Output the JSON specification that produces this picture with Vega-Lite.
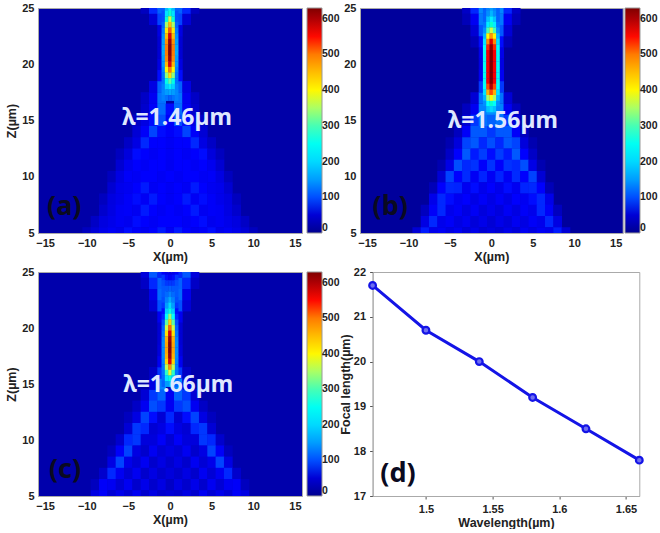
{"$schema":"https://vega.github.io/schema/vega-lite/v6.json","background":"white","padding":{"left":5,"top":1,"right":0,"bottom":0},"spacing":2,"resolve":{"scale":{"color":"independent"},"legend":{"color":"independent"}},
"config":{"view":{"stroke":"#aaaaaa"},"font":"Liberation Sans","axis":{"labelFont":"Liberation Sans","labelFontWeight":"bold","labelFontSize":11,"labelColor":"#222222","titleFont":"Liberation Sans","titleFontWeight":"bold","titleFontSize":12.5,"titleColor":"#222222","grid":false,"domainColor":"#aaaaaa","tickColor":"#555555","tickSize":0,"labelPadding":4},"legend":{"labelFont":"Liberation Sans","labelFontWeight":"bold","labelFontSize":10.5,"labelColor":"#222222"}},
"datasets":{
"ac":[{"x":-3,"z":16,"v":45},{"x":-2,"z":16,"v":75},{"x":-1,"z":16,"v":115},{"x":0,"z":16,"v":80},{"x":1,"z":16,"v":115},{"x":2,"z":16,"v":75},{"x":3,"z":16,"v":45},
{"x":-4,"z":15,"v":40},{"x":-3,"z":15,"v":60},{"x":-2,"z":15,"v":80},{"x":-1,"z":15,"v":100},{"x":0,"z":15,"v":75},{"x":1,"z":15,"v":100},{"x":2,"z":15,"v":80},{"x":3,"z":15,"v":60},{"x":4,"z":15,"v":40},
{"x":-4,"z":14,"v":50},{"x":-3,"z":14,"v":75},{"x":-2,"z":14,"v":95},{"x":-1,"z":14,"v":80},{"x":0,"z":14,"v":75},{"x":1,"z":14,"v":80},{"x":2,"z":14,"v":95},{"x":3,"z":14,"v":75},{"x":4,"z":14,"v":50},
{"x":-5,"z":13,"v":40},{"x":-4,"z":13,"v":60},{"x":-3,"z":13,"v":85},{"x":-2,"z":13,"v":78},{"x":-1,"z":13,"v":78},{"x":0,"z":13,"v":72},{"x":1,"z":13,"v":78},{"x":2,"z":13,"v":78},{"x":3,"z":13,"v":85},{"x":4,"z":13,"v":60},{"x":5,"z":13,"v":40},
{"x":-6,"z":12,"v":35},{"x":-5,"z":12,"v":55},{"x":-4,"z":12,"v":80},{"x":-3,"z":12,"v":78},{"x":-2,"z":12,"v":72},{"x":-1,"z":12,"v":78},{"x":0,"z":12,"v":72},{"x":1,"z":12,"v":78},{"x":2,"z":12,"v":72},{"x":3,"z":12,"v":78},{"x":4,"z":12,"v":80},{"x":5,"z":12,"v":55},{"x":6,"z":12,"v":35},
{"x":-6,"z":11,"v":48},{"x":-5,"z":11,"v":68},{"x":-4,"z":11,"v":78},{"x":-3,"z":11,"v":72},{"x":-2,"z":11,"v":78},{"x":-1,"z":11,"v":78},{"x":0,"z":11,"v":70},{"x":1,"z":11,"v":78},{"x":2,"z":11,"v":78},{"x":3,"z":11,"v":72},{"x":4,"z":11,"v":78},{"x":5,"z":11,"v":68},{"x":6,"z":11,"v":48},
{"x":-7,"z":10,"v":35},{"x":-6,"z":10,"v":60},{"x":-5,"z":10,"v":75},{"x":-4,"z":10,"v":72},{"x":-3,"z":10,"v":78},{"x":-2,"z":10,"v":78},{"x":-1,"z":10,"v":72},{"x":0,"z":10,"v":78},{"x":1,"z":10,"v":72},{"x":2,"z":10,"v":78},{"x":3,"z":10,"v":78},{"x":4,"z":10,"v":72},{"x":5,"z":10,"v":75},{"x":6,"z":10,"v":60},{"x":7,"z":10,"v":35},
{"x":-7,"z":9,"v":48},{"x":-6,"z":9,"v":66},{"x":-5,"z":9,"v":70},{"x":-4,"z":9,"v":78},{"x":-3,"z":9,"v":82},{"x":-2,"z":9,"v":72},{"x":-1,"z":9,"v":78},{"x":0,"z":9,"v":72},{"x":1,"z":9,"v":78},{"x":2,"z":9,"v":72},{"x":3,"z":9,"v":82},{"x":4,"z":9,"v":78},{"x":5,"z":9,"v":70},{"x":6,"z":9,"v":66},{"x":7,"z":9,"v":48},
{"x":-8,"z":8,"v":35},{"x":-7,"z":8,"v":58},{"x":-6,"z":8,"v":66},{"x":-5,"z":8,"v":75},{"x":-4,"z":8,"v":80},{"x":-3,"z":8,"v":72},{"x":-2,"z":8,"v":82},{"x":-1,"z":8,"v":78},{"x":0,"z":8,"v":72},{"x":1,"z":8,"v":78},{"x":2,"z":8,"v":82},{"x":3,"z":8,"v":72},{"x":4,"z":8,"v":80},{"x":5,"z":8,"v":75},{"x":6,"z":8,"v":66},{"x":7,"z":8,"v":58},{"x":8,"z":8,"v":35},
{"x":-8,"z":7,"v":45},{"x":-7,"z":7,"v":60},{"x":-6,"z":7,"v":72},{"x":-5,"z":7,"v":75},{"x":-4,"z":7,"v":70},{"x":-3,"z":7,"v":82},{"x":-2,"z":7,"v":78},{"x":-1,"z":7,"v":72},{"x":0,"z":7,"v":78},{"x":1,"z":7,"v":72},{"x":2,"z":7,"v":78},{"x":3,"z":7,"v":82},{"x":4,"z":7,"v":70},{"x":5,"z":7,"v":75},{"x":6,"z":7,"v":72},{"x":7,"z":7,"v":60},{"x":8,"z":7,"v":45},
{"x":-9,"z":6,"v":40},{"x":-8,"z":6,"v":58},{"x":-7,"z":6,"v":65},{"x":-6,"z":6,"v":72},{"x":-5,"z":6,"v":68},{"x":-4,"z":6,"v":80},{"x":-3,"z":6,"v":78},{"x":-2,"z":6,"v":72},{"x":-1,"z":6,"v":78},{"x":0,"z":6,"v":78},{"x":1,"z":6,"v":78},{"x":2,"z":6,"v":72},{"x":3,"z":6,"v":78},{"x":4,"z":6,"v":80},{"x":5,"z":6,"v":68},{"x":6,"z":6,"v":72},{"x":7,"z":6,"v":65},{"x":8,"z":6,"v":58},{"x":9,"z":6,"v":40},
{"x":-10,"z":5,"v":35},{"x":-9,"z":5,"v":52},{"x":-8,"z":5,"v":65},{"x":-7,"z":5,"v":72},{"x":-6,"z":5,"v":66},{"x":-5,"z":5,"v":80},{"x":-4,"z":5,"v":75},{"x":-3,"z":5,"v":70},{"x":-2,"z":5,"v":78},{"x":-1,"z":5,"v":82},{"x":0,"z":5,"v":72},{"x":1,"z":5,"v":82},{"x":2,"z":5,"v":78},{"x":3,"z":5,"v":70},{"x":4,"z":5,"v":75},{"x":5,"z":5,"v":80},{"x":6,"z":5,"v":66},{"x":7,"z":5,"v":72},{"x":8,"z":5,"v":65},{"x":9,"z":5,"v":52},{"x":10,"z":5,"v":35},
{"x":-3,"z":17,"v":40},{"x":-2,"z":17,"v":70},{"x":-1,"z":17,"v":120},{"x":1,"z":17,"v":120},{"x":2,"z":17,"v":70},{"x":3,"z":17,"v":40},
{"x":-2,"z":18,"v":60},{"x":-1,"z":18,"v":110},{"x":1,"z":18,"v":110},{"x":2,"z":18,"v":60},
{"x":-1,"z":19,"v":80},{"x":1,"z":19,"v":80},{"x":-1,"z":20,"v":60},{"x":1,"z":20,"v":60},{"x":-1,"z":21,"v":50},{"x":1,"z":21,"v":50},{"x":-1,"z":22,"v":50},{"x":1,"z":22,"v":50},{"x":-1,"z":23,"v":60},{"x":1,"z":23,"v":60},
{"x":-2,"z":24,"v":50},{"x":-1,"z":24,"v":95},{"x":1,"z":24,"v":95},{"x":2,"z":24,"v":50},{"x":-3,"z":25,"v":35},{"x":-2,"z":25,"v":85},{"x":-1,"z":25,"v":110},{"x":1,"z":25,"v":110},{"x":2,"z":25,"v":85},{"x":3,"z":25,"v":35}],
"af":[{"x":-0.8,"z":25,"v":110},{"x":-0.4,"z":25,"v":175},{"x":0,"z":25,"v":230},{"x":0.4,"z":25,"v":175},{"x":0.8,"z":25,"v":110},
{"x":-0.8,"z":24.5,"v":100},{"x":-0.4,"z":24.5,"v":210},{"x":0,"z":24.5,"v":280},{"x":0.4,"z":24.5,"v":210},{"x":0.8,"z":24.5,"v":100},
{"x":-0.8,"z":24,"v":100},{"x":-0.4,"z":24,"v":280},{"x":0,"z":24,"v":370},{"x":0.4,"z":24,"v":280},{"x":0.8,"z":24,"v":100},
{"x":-0.8,"z":23.5,"v":110},{"x":-0.4,"z":23.5,"v":350},{"x":0,"z":23.5,"v":450},{"x":0.4,"z":23.5,"v":350},{"x":0.8,"z":23.5,"v":110},
{"x":-0.8,"z":23,"v":125},{"x":-0.4,"z":23,"v":410},{"x":0,"z":23,"v":520},{"x":0.4,"z":23,"v":410},{"x":0.8,"z":23,"v":125},
{"x":-0.8,"z":22.5,"v":140},{"x":-0.4,"z":22.5,"v":450},{"x":0,"z":22.5,"v":570},{"x":0.4,"z":22.5,"v":450},{"x":0.8,"z":22.5,"v":140},
{"x":-0.8,"z":22,"v":150},{"x":-0.4,"z":22,"v":485},{"x":0,"z":22,"v":610},{"x":0.4,"z":22,"v":485},{"x":0.8,"z":22,"v":150},
{"x":-0.8,"z":21.5,"v":160},{"x":-0.4,"z":21.5,"v":500},{"x":0,"z":21.5,"v":625},{"x":0.4,"z":21.5,"v":500},{"x":0.8,"z":21.5,"v":160},
{"x":-0.8,"z":21,"v":160},{"x":-0.4,"z":21,"v":500},{"x":0,"z":21,"v":625},{"x":0.4,"z":21,"v":500},{"x":0.8,"z":21,"v":160},
{"x":-0.8,"z":20.5,"v":150},{"x":-0.4,"z":20.5,"v":490},{"x":0,"z":20.5,"v":610},{"x":0.4,"z":20.5,"v":490},{"x":0.8,"z":20.5,"v":150},
{"x":-0.8,"z":20,"v":145},{"x":-0.4,"z":20,"v":455},{"x":0,"z":20,"v":570},{"x":0.4,"z":20,"v":455},{"x":0.8,"z":20,"v":145},
{"x":-0.8,"z":19.5,"v":130},{"x":-0.4,"z":19.5,"v":400},{"x":0,"z":19.5,"v":500},{"x":0.4,"z":19.5,"v":400},{"x":0.8,"z":19.5,"v":130},
{"x":-0.8,"z":19,"v":120},{"x":-0.4,"z":19,"v":335},{"x":0,"z":19,"v":420},{"x":0.4,"z":19,"v":335},{"x":0.8,"z":19,"v":120},
{"x":-0.8,"z":18.5,"v":120},{"x":-0.4,"z":18.5,"v":260},{"x":0,"z":18.5,"v":310},{"x":0.4,"z":18.5,"v":260},{"x":0.8,"z":18.5,"v":120},
{"x":-0.8,"z":18,"v":130},{"x":-0.4,"z":18,"v":195},{"x":0,"z":18,"v":220},{"x":0.4,"z":18,"v":195},{"x":0.8,"z":18,"v":130},
{"x":-0.8,"z":17.5,"v":135},{"x":-0.4,"z":17.5,"v":150},{"x":0,"z":17.5,"v":160},{"x":0.4,"z":17.5,"v":150},{"x":0.8,"z":17.5,"v":135},
{"x":-0.8,"z":17,"v":130},{"x":-0.4,"z":17,"v":120},{"x":0,"z":17,"v":110},{"x":0.4,"z":17,"v":120},{"x":0.8,"z":17,"v":130}],
"bc":[{"x":-3,"z":16,"v":35},{"x":-2,"z":16,"v":70},{"x":-1,"z":16,"v":130},{"x":0,"z":16,"v":140},{"x":1,"z":16,"v":130},{"x":2,"z":16,"v":70},{"x":3,"z":16,"v":35},
{"x":-3,"z":15,"v":50},{"x":-2,"z":15,"v":90},{"x":-1,"z":15,"v":120},{"x":0,"z":15,"v":110},{"x":1,"z":15,"v":120},{"x":2,"z":15,"v":90},{"x":3,"z":15,"v":50},
{"x":-4,"z":14,"v":35},{"x":-3,"z":14,"v":75},{"x":-2,"z":14,"v":105},{"x":-1,"z":14,"v":105},{"x":0,"z":14,"v":90},{"x":1,"z":14,"v":105},{"x":2,"z":14,"v":105},{"x":3,"z":14,"v":75},{"x":4,"z":14,"v":35},
{"x":-5,"z":13,"v":25},{"x":-4,"z":13,"v":55},{"x":-3,"z":13,"v":95},{"x":-2,"z":13,"v":105},{"x":-1,"z":13,"v":85},{"x":0,"z":13,"v":100},{"x":1,"z":13,"v":85},{"x":2,"z":13,"v":105},{"x":3,"z":13,"v":95},{"x":4,"z":13,"v":55},{"x":5,"z":13,"v":25},
{"x":-5,"z":12,"v":40},{"x":-4,"z":12,"v":78},{"x":-3,"z":12,"v":105},{"x":-2,"z":12,"v":82},{"x":-1,"z":12,"v":92},{"x":0,"z":12,"v":80},{"x":1,"z":12,"v":92},{"x":2,"z":12,"v":82},{"x":3,"z":12,"v":105},{"x":4,"z":12,"v":78},{"x":5,"z":12,"v":40},
{"x":-6,"z":11,"v":25},{"x":-5,"z":11,"v":62},{"x":-4,"z":11,"v":100},{"x":-3,"z":11,"v":85},{"x":-2,"z":11,"v":88},{"x":-1,"z":11,"v":76},{"x":0,"z":11,"v":88},{"x":1,"z":11,"v":76},{"x":2,"z":11,"v":88},{"x":3,"z":11,"v":85},{"x":4,"z":11,"v":100},{"x":5,"z":11,"v":62},{"x":6,"z":11,"v":25},
{"x":-6,"z":10,"v":50},{"x":-5,"z":10,"v":95},{"x":-4,"z":10,"v":78},{"x":-3,"z":10,"v":86},{"x":-2,"z":10,"v":72},{"x":-1,"z":10,"v":84},{"x":0,"z":10,"v":72},{"x":1,"z":10,"v":84},{"x":2,"z":10,"v":72},{"x":3,"z":10,"v":86},{"x":4,"z":10,"v":78},{"x":5,"z":10,"v":95},{"x":6,"z":10,"v":50},
{"x":-7,"z":9,"v":30},{"x":-6,"z":9,"v":78},{"x":-5,"z":9,"v":85},{"x":-4,"z":9,"v":84},{"x":-3,"z":9,"v":70},{"x":-2,"z":9,"v":80},{"x":-1,"z":9,"v":66},{"x":0,"z":9,"v":78},{"x":1,"z":9,"v":66},{"x":2,"z":9,"v":80},{"x":3,"z":9,"v":70},{"x":4,"z":9,"v":84},{"x":5,"z":9,"v":85},{"x":6,"z":9,"v":78},{"x":7,"z":9,"v":30},
{"x":-7,"z":8,"v":65},{"x":-6,"z":8,"v":85},{"x":-5,"z":8,"v":80},{"x":-4,"z":8,"v":70},{"x":-3,"z":8,"v":78},{"x":-2,"z":8,"v":62},{"x":-1,"z":8,"v":74},{"x":0,"z":8,"v":62},{"x":1,"z":8,"v":74},{"x":2,"z":8,"v":62},{"x":3,"z":8,"v":78},{"x":4,"z":8,"v":70},{"x":5,"z":8,"v":80},{"x":6,"z":8,"v":85},{"x":7,"z":8,"v":65},
{"x":-8,"z":7,"v":35},{"x":-7,"z":7,"v":75},{"x":-6,"z":7,"v":85},{"x":-5,"z":7,"v":66},{"x":-4,"z":7,"v":74},{"x":-3,"z":7,"v":60},{"x":-2,"z":7,"v":72},{"x":-1,"z":7,"v":56},{"x":0,"z":7,"v":66},{"x":1,"z":7,"v":56},{"x":2,"z":7,"v":72},{"x":3,"z":7,"v":60},{"x":4,"z":7,"v":74},{"x":5,"z":7,"v":66},{"x":6,"z":7,"v":85},{"x":7,"z":7,"v":75},{"x":8,"z":7,"v":35},
{"x":-8,"z":6,"v":60},{"x":-7,"z":6,"v":85},{"x":-6,"z":6,"v":66},{"x":-5,"z":6,"v":74},{"x":-4,"z":6,"v":60},{"x":-3,"z":6,"v":70},{"x":-2,"z":6,"v":54},{"x":-1,"z":6,"v":64},{"x":0,"z":6,"v":50},{"x":1,"z":6,"v":64},{"x":2,"z":6,"v":54},{"x":3,"z":6,"v":70},{"x":4,"z":6,"v":60},{"x":5,"z":6,"v":74},{"x":6,"z":6,"v":66},{"x":7,"z":6,"v":85},{"x":8,"z":6,"v":60},
{"x":-9,"z":5,"v":50},{"x":-8,"z":5,"v":82},{"x":-7,"z":5,"v":66},{"x":-6,"z":5,"v":72},{"x":-5,"z":5,"v":60},{"x":-4,"z":5,"v":70},{"x":-3,"z":5,"v":54},{"x":-2,"z":5,"v":64},{"x":-1,"z":5,"v":50},{"x":0,"z":5,"v":58},{"x":1,"z":5,"v":50},{"x":2,"z":5,"v":64},{"x":3,"z":5,"v":54},{"x":4,"z":5,"v":70},{"x":5,"z":5,"v":60},{"x":6,"z":5,"v":72},{"x":7,"z":5,"v":66},{"x":8,"z":5,"v":82},{"x":9,"z":5,"v":50},
{"x":-2,"z":17,"v":50},{"x":-1,"z":17,"v":120},{"x":1,"z":17,"v":120},{"x":2,"z":17,"v":50},{"x":-1,"z":18,"v":90},{"x":1,"z":18,"v":90},{"x":-1,"z":19,"v":70},{"x":1,"z":19,"v":70},{"x":-1,"z":20,"v":60},{"x":1,"z":20,"v":60},{"x":-1,"z":21,"v":65},{"x":1,"z":21,"v":65},
{"x":-2,"z":22,"v":30},{"x":-1,"z":22,"v":80},{"x":1,"z":22,"v":80},{"x":2,"z":22,"v":30},{"x":-2,"z":23,"v":50},{"x":-1,"z":23,"v":105},{"x":1,"z":23,"v":105},{"x":2,"z":23,"v":50},
{"x":-3,"z":24,"v":30},{"x":-2,"z":24,"v":70},{"x":-1,"z":24,"v":125},{"x":1,"z":24,"v":125},{"x":2,"z":24,"v":70},{"x":3,"z":24,"v":30},{"x":-3,"z":25,"v":40},{"x":-2,"z":25,"v":85},{"x":-1,"z":25,"v":135},{"x":1,"z":25,"v":135},{"x":2,"z":25,"v":85},{"x":3,"z":25,"v":40}],
"bf":[{"x":-0.8,"z":25,"v":110},{"x":-0.4,"z":25,"v":130},{"x":0,"z":25,"v":150},{"x":0.4,"z":25,"v":130},{"x":0.8,"z":25,"v":110},
{"x":-0.8,"z":24.5,"v":110},{"x":-0.4,"z":24.5,"v":140},{"x":0,"z":24.5,"v":170},{"x":0.4,"z":24.5,"v":140},{"x":0.8,"z":24.5,"v":110},
{"x":-0.8,"z":24,"v":110},{"x":-0.4,"z":24,"v":180},{"x":0,"z":24,"v":220},{"x":0.4,"z":24,"v":180},{"x":0.8,"z":24,"v":110},
{"x":-0.8,"z":23.5,"v":120},{"x":-0.4,"z":23.5,"v":220},{"x":0,"z":23.5,"v":280},{"x":0.4,"z":23.5,"v":220},{"x":0.8,"z":23.5,"v":120},
{"x":-0.8,"z":23,"v":140},{"x":-0.4,"z":23,"v":300},{"x":0,"z":23,"v":370},{"x":0.4,"z":23,"v":300},{"x":0.8,"z":23,"v":140},
{"x":-0.8,"z":22.5,"v":170},{"x":-0.4,"z":22.5,"v":400},{"x":0,"z":22.5,"v":480},{"x":0.4,"z":22.5,"v":400},{"x":0.8,"z":22.5,"v":170},
{"x":-0.8,"z":22,"v":210},{"x":-0.4,"z":22,"v":490},{"x":0,"z":22,"v":570},{"x":0.4,"z":22,"v":490},{"x":0.8,"z":22,"v":210},
{"x":-0.8,"z":21.5,"v":240},{"x":-0.4,"z":21.5,"v":545},{"x":0,"z":21.5,"v":620},{"x":0.4,"z":21.5,"v":545},{"x":0.8,"z":21.5,"v":240},
{"x":-0.8,"z":21,"v":250},{"x":-0.4,"z":21,"v":555},{"x":0,"z":21,"v":630},{"x":0.4,"z":21,"v":555},{"x":0.8,"z":21,"v":250},
{"x":-0.8,"z":20.5,"v":250},{"x":-0.4,"z":20.5,"v":555},{"x":0,"z":20.5,"v":630},{"x":0.4,"z":20.5,"v":555},{"x":0.8,"z":20.5,"v":250},
{"x":-0.8,"z":20,"v":250},{"x":-0.4,"z":20,"v":555},{"x":0,"z":20,"v":630},{"x":0.4,"z":20,"v":555},{"x":0.8,"z":20,"v":250},
{"x":-0.8,"z":19.5,"v":250},{"x":-0.4,"z":19.5,"v":555},{"x":0,"z":19.5,"v":630},{"x":0.4,"z":19.5,"v":555},{"x":0.8,"z":19.5,"v":250},
{"x":-0.8,"z":19,"v":250},{"x":-0.4,"z":19,"v":555},{"x":0,"z":19,"v":630},{"x":0.4,"z":19,"v":555},{"x":0.8,"z":19,"v":250},
{"x":-0.8,"z":18.5,"v":250},{"x":-0.4,"z":18.5,"v":555},{"x":0,"z":18.5,"v":630},{"x":0.4,"z":18.5,"v":555},{"x":0.8,"z":18.5,"v":250},
{"x":-0.8,"z":18,"v":240},{"x":-0.4,"z":18,"v":530},{"x":0,"z":18,"v":600},{"x":0.4,"z":18,"v":530},{"x":0.8,"z":18,"v":240},
{"x":-0.8,"z":17.5,"v":210},{"x":-0.4,"z":17.5,"v":460},{"x":0,"z":17.5,"v":530},{"x":0.4,"z":17.5,"v":460},{"x":0.8,"z":17.5,"v":210},
{"x":-0.8,"z":17,"v":170},{"x":-0.4,"z":17,"v":350},{"x":0,"z":17,"v":400},{"x":0.4,"z":17,"v":350},{"x":0.8,"z":17,"v":170},
{"x":-0.8,"z":16.5,"v":140},{"x":-0.4,"z":16.5,"v":240},{"x":0,"z":16.5,"v":280},{"x":0.4,"z":16.5,"v":240},{"x":0.8,"z":16.5,"v":140},
{"x":-0.8,"z":16,"v":130},{"x":-0.4,"z":16,"v":180},{"x":0,"z":16,"v":200},{"x":0.4,"z":16,"v":180},{"x":0.8,"z":16,"v":130}],
"cc":[{"x":-3,"z":14,"v":50},{"x":-2,"z":14,"v":90},{"x":-1,"z":14,"v":110},{"x":0,"z":14,"v":70},{"x":1,"z":14,"v":110},{"x":2,"z":14,"v":90},{"x":3,"z":14,"v":50},
{"x":-4,"z":13,"v":40},{"x":-3,"z":13,"v":70},{"x":-2,"z":13,"v":100},{"x":-1,"z":13,"v":90},{"x":0,"z":13,"v":70},{"x":1,"z":13,"v":90},{"x":2,"z":13,"v":100},{"x":3,"z":13,"v":70},{"x":4,"z":13,"v":40},
{"x":-5,"z":12,"v":35},{"x":-4,"z":12,"v":60},{"x":-3,"z":12,"v":95},{"x":-2,"z":12,"v":80},{"x":-1,"z":12,"v":50},{"x":0,"z":12,"v":85},{"x":1,"z":12,"v":50},{"x":2,"z":12,"v":80},{"x":3,"z":12,"v":95},{"x":4,"z":12,"v":60},{"x":5,"z":12,"v":35},
{"x":-5,"z":11,"v":50},{"x":-4,"z":11,"v":90},{"x":-3,"z":11,"v":85},{"x":-2,"z":11,"v":50},{"x":-1,"z":11,"v":60},{"x":0,"z":11,"v":80},{"x":1,"z":11,"v":60},{"x":2,"z":11,"v":50},{"x":3,"z":11,"v":85},{"x":4,"z":11,"v":90},{"x":5,"z":11,"v":50},
{"x":-6,"z":10,"v":45},{"x":-5,"z":10,"v":85},{"x":-4,"z":10,"v":90},{"x":-3,"z":10,"v":55},{"x":-2,"z":10,"v":55},{"x":-1,"z":10,"v":75},{"x":0,"z":10,"v":50},{"x":1,"z":10,"v":75},{"x":2,"z":10,"v":55},{"x":3,"z":10,"v":55},{"x":4,"z":10,"v":90},{"x":5,"z":10,"v":85},{"x":6,"z":10,"v":45},
{"x":-7,"z":9,"v":35},{"x":-6,"z":9,"v":75},{"x":-5,"z":9,"v":95},{"x":-4,"z":9,"v":60},{"x":-3,"z":9,"v":45},{"x":-2,"z":9,"v":70},{"x":-1,"z":9,"v":50},{"x":0,"z":9,"v":60},{"x":1,"z":9,"v":50},{"x":2,"z":9,"v":70},{"x":3,"z":9,"v":45},{"x":4,"z":9,"v":60},{"x":5,"z":9,"v":95},{"x":6,"z":9,"v":75},{"x":7,"z":9,"v":35},
{"x":-7,"z":8,"v":60},{"x":-6,"z":8,"v":95},{"x":-5,"z":8,"v":65},{"x":-4,"z":8,"v":50},{"x":-3,"z":8,"v":70},{"x":-2,"z":8,"v":45},{"x":-1,"z":8,"v":60},{"x":0,"z":8,"v":45},{"x":1,"z":8,"v":60},{"x":2,"z":8,"v":45},{"x":3,"z":8,"v":70},{"x":4,"z":8,"v":50},{"x":5,"z":8,"v":65},{"x":6,"z":8,"v":95},{"x":7,"z":8,"v":60},
{"x":-8,"z":7,"v":45},{"x":-7,"z":7,"v":85},{"x":-6,"z":7,"v":70},{"x":-5,"z":7,"v":50},{"x":-4,"z":7,"v":70},{"x":-3,"z":7,"v":45},{"x":-2,"z":7,"v":60},{"x":-1,"z":7,"v":45},{"x":0,"z":7,"v":55},{"x":1,"z":7,"v":45},{"x":2,"z":7,"v":60},{"x":3,"z":7,"v":45},{"x":4,"z":7,"v":70},{"x":5,"z":7,"v":50},{"x":6,"z":7,"v":70},{"x":7,"z":7,"v":85},{"x":8,"z":7,"v":45},
{"x":-9,"z":6,"v":35},{"x":-8,"z":6,"v":75},{"x":-7,"z":6,"v":70},{"x":-6,"z":6,"v":50},{"x":-5,"z":6,"v":70},{"x":-4,"z":6,"v":45},{"x":-3,"z":6,"v":65},{"x":-2,"z":6,"v":45},{"x":-1,"z":6,"v":60},{"x":0,"z":6,"v":40},{"x":1,"z":6,"v":60},{"x":2,"z":6,"v":45},{"x":3,"z":6,"v":65},{"x":4,"z":6,"v":45},{"x":5,"z":6,"v":70},{"x":6,"z":6,"v":50},{"x":7,"z":6,"v":70},{"x":8,"z":6,"v":75},{"x":9,"z":6,"v":35},
{"x":-9,"z":5,"v":60},{"x":-8,"z":5,"v":75},{"x":-7,"z":5,"v":50},{"x":-6,"z":5,"v":65},{"x":-5,"z":5,"v":50},{"x":-4,"z":5,"v":70},{"x":-3,"z":5,"v":45},{"x":-2,"z":5,"v":60},{"x":-1,"z":5,"v":45},{"x":0,"z":5,"v":50},{"x":1,"z":5,"v":45},{"x":2,"z":5,"v":60},{"x":3,"z":5,"v":45},{"x":4,"z":5,"v":70},{"x":5,"z":5,"v":50},{"x":6,"z":5,"v":65},{"x":7,"z":5,"v":50},{"x":8,"z":5,"v":75},{"x":9,"z":5,"v":60},
{"x":-2,"z":15,"v":60},{"x":-1,"z":15,"v":130},{"x":1,"z":15,"v":130},{"x":2,"z":15,"v":60},{"x":-2,"z":16,"v":40},{"x":-1,"z":16,"v":90},{"x":1,"z":16,"v":90},{"x":2,"z":16,"v":40},{"x":-1,"z":17,"v":70},{"x":1,"z":17,"v":70},{"x":-1,"z":18,"v":55},{"x":1,"z":18,"v":55},{"x":-1,"z":19,"v":50},{"x":1,"z":19,"v":50},{"x":-1,"z":20,"v":50},{"x":1,"z":20,"v":50},{"x":-1,"z":21,"v":70},{"x":1,"z":21,"v":70},
{"x":-2,"z":22,"v":50},{"x":-1,"z":22,"v":100},{"x":1,"z":22,"v":100},{"x":2,"z":22,"v":50},{"x":-2,"z":23,"v":65},{"x":-1,"z":23,"v":115},{"x":1,"z":23,"v":115},{"x":2,"z":23,"v":65},
{"x":-3,"z":24,"v":40},{"x":-2,"z":24,"v":85},{"x":-1,"z":24,"v":110},{"x":1,"z":24,"v":110},{"x":2,"z":24,"v":85},{"x":3,"z":24,"v":40},{"x":-3,"z":25,"v":55},{"x":-2,"z":25,"v":105},{"x":-1,"z":25,"v":85},{"x":1,"z":25,"v":85},{"x":2,"z":25,"v":105},{"x":3,"z":25,"v":55}],
"cf":[{"x":-0.8,"z":25,"v":75},{"x":-0.4,"z":25,"v":65},{"x":0,"z":25,"v":60},{"x":0.4,"z":25,"v":65},{"x":0.8,"z":25,"v":75},
{"x":-0.8,"z":24.5,"v":90},{"x":-0.4,"z":24.5,"v":80},{"x":0,"z":24.5,"v":75},{"x":0.4,"z":24.5,"v":80},{"x":0.8,"z":24.5,"v":90},
{"x":-0.8,"z":24,"v":100},{"x":-0.4,"z":24,"v":90},{"x":0,"z":24,"v":90},{"x":0.4,"z":24,"v":90},{"x":0.8,"z":24,"v":100},
{"x":-0.8,"z":23.5,"v":105},{"x":-0.4,"z":23.5,"v":105},{"x":0,"z":23.5,"v":110},{"x":0.4,"z":23.5,"v":105},{"x":0.8,"z":23.5,"v":105},
{"x":-0.8,"z":23,"v":105},{"x":-0.4,"z":23,"v":115},{"x":0,"z":23,"v":130},{"x":0.4,"z":23,"v":115},{"x":0.8,"z":23,"v":105},
{"x":-0.8,"z":22.5,"v":100},{"x":-0.4,"z":22.5,"v":130},{"x":0,"z":22.5,"v":160},{"x":0.4,"z":22.5,"v":130},{"x":0.8,"z":22.5,"v":100},
{"x":-0.8,"z":22,"v":90},{"x":-0.4,"z":22,"v":150},{"x":0,"z":22,"v":200},{"x":0.4,"z":22,"v":150},{"x":0.8,"z":22,"v":90},
{"x":-0.8,"z":21.5,"v":80},{"x":-0.4,"z":21.5,"v":190},{"x":0,"z":21.5,"v":260},{"x":0.4,"z":21.5,"v":190},{"x":0.8,"z":21.5,"v":80},
{"x":-0.8,"z":21,"v":85},{"x":-0.4,"z":21,"v":240},{"x":0,"z":21,"v":340},{"x":0.4,"z":21,"v":240},{"x":0.8,"z":21,"v":85},
{"x":-0.8,"z":20.5,"v":100},{"x":-0.4,"z":20.5,"v":310},{"x":0,"z":20.5,"v":430},{"x":0.4,"z":20.5,"v":310},{"x":0.8,"z":20.5,"v":100},
{"x":-0.8,"z":20,"v":110},{"x":-0.4,"z":20,"v":370},{"x":0,"z":20,"v":510},{"x":0.4,"z":20,"v":370},{"x":0.8,"z":20,"v":110},
{"x":-0.8,"z":19.5,"v":120},{"x":-0.4,"z":19.5,"v":420},{"x":0,"z":19.5,"v":570},{"x":0.4,"z":19.5,"v":420},{"x":0.8,"z":19.5,"v":120},
{"x":-0.8,"z":19,"v":130},{"x":-0.4,"z":19,"v":460},{"x":0,"z":19,"v":610},{"x":0.4,"z":19,"v":460},{"x":0.8,"z":19,"v":130},
{"x":-0.8,"z":18.5,"v":135},{"x":-0.4,"z":18.5,"v":470},{"x":0,"z":18.5,"v":625},{"x":0.4,"z":18.5,"v":470},{"x":0.8,"z":18.5,"v":135},
{"x":-0.8,"z":18,"v":135},{"x":-0.4,"z":18,"v":470},{"x":0,"z":18,"v":625},{"x":0.4,"z":18,"v":470},{"x":0.8,"z":18,"v":135},
{"x":-0.8,"z":17.5,"v":135},{"x":-0.4,"z":17.5,"v":460},{"x":0,"z":17.5,"v":610},{"x":0.4,"z":17.5,"v":460},{"x":0.8,"z":17.5,"v":135},
{"x":-0.8,"z":17,"v":130},{"x":-0.4,"z":17,"v":430},{"x":0,"z":17,"v":570},{"x":0.4,"z":17,"v":430},{"x":0.8,"z":17,"v":130},
{"x":-0.8,"z":16.5,"v":125},{"x":-0.4,"z":16.5,"v":360},{"x":0,"z":16.5,"v":480},{"x":0.4,"z":16.5,"v":360},{"x":0.8,"z":16.5,"v":125},
{"x":-0.8,"z":16,"v":120},{"x":-0.4,"z":16,"v":290},{"x":0,"z":16,"v":380},{"x":0.4,"z":16,"v":290},{"x":0.8,"z":16,"v":120},
{"x":-0.8,"z":15.5,"v":115},{"x":-0.4,"z":15.5,"v":210},{"x":0,"z":15.5,"v":270},{"x":0.4,"z":15.5,"v":210},{"x":0.8,"z":15.5,"v":115},
{"x":-0.8,"z":15,"v":110},{"x":-0.4,"z":15,"v":150},{"x":0,"z":15,"v":170},{"x":0.4,"z":15,"v":150},{"x":0.8,"z":15,"v":110}]
},
"vconcat":[
{"hconcat":[
{"width":264,"height":225,"view":{"fill":"#0000a8"},"layer":[
{"data":{"name":"ac"},"mark":{"type":"rect","width":8.7,"height":11.6,"clip":true},"encoding":{"x":{"field":"x","type":"quantitative","scale":{"domain":[-15.85,15.85],"nice":false},"axis":{"values":[-15,-10,-5,0,5,10,15],"title":"X(µm)","titlePadding":2}},"y":{"field":"z","type":"quantitative","scale":{"domain":[5,25],"nice":false},"axis":{"values":[5,10,15,20,25],"title":"Z(µm)","titlePadding":3}},"color":{"field":"v","type":"quantitative","scale":{"domain":[0,79,236,394,551,630],"range":["#00008f","#0000ff","#00ffff","#ffff00","#ff0000","#800000"]},"legend":{"orient":"none","legendX":269,"legendY":0,"title":null,"gradientLength":225,"gradientThickness":15,"values":[0,100,200,300,400,500,600],"gradientStrokeColor":"#999999","gradientStrokeWidth":1,"labelOverlap":false,"labelOffset":0}}}},
{"data":{"name":"af"},"mark":{"type":"rect","width":3.6,"height":5.9,"clip":true},"encoding":{"x":{"field":"x","type":"quantitative"},"y":{"field":"z","type":"quantitative"},"color":{"field":"v","type":"quantitative","legend":null}}},
{"data":{"values":[{"x":0.85,"z":15.2,"t":"λ=1.46µm"}]},"mark":{"type":"text","font":"Noto Sans","fontWeight":"bold","fontSize":23,"color":"#dfe8ff"},"encoding":{"x":{"field":"x","type":"quantitative"},"y":{"field":"z","type":"quantitative"},"text":{"field":"t"}}},
{"data":{"values":[{"x":-12.7,"z":7.3,"t":"(a)"}]},"mark":{"type":"text","font":"Noto Sans","fontWeight":"bold","fontSize":27,"color":"#0a0a20"},"encoding":{"x":{"field":"x","type":"quantitative"},"y":{"field":"z","type":"quantitative"},"text":{"field":"t"}}}
]},
{"width":262.7,"height":225,"view":{"fill":"#00009c"},"layer":[
{"data":{"name":"bc"},"mark":{"type":"rect","width":8.7,"height":11.6,"clip":true},"encoding":{"x":{"field":"x","type":"quantitative","scale":{"domain":[-15.85,15.85],"nice":false},"axis":{"values":[-15,-10,-5,0,5,10,15],"title":"X(µm)","titlePadding":2}},"y":{"field":"z","type":"quantitative","scale":{"domain":[5,25],"nice":false},"axis":{"values":[5,10,15,20,25],"title":null}},"color":{"field":"v","type":"quantitative","scale":{"domain":[0,79,236,394,551,630],"range":["#00008f","#0000ff","#00ffff","#ffff00","#ff0000","#800000"]},"legend":{"orient":"none","legendX":265,"legendY":0,"title":null,"gradientLength":225,"gradientThickness":15,"values":[0,100,200,300,400,500,600],"gradientStrokeColor":"#999999","gradientStrokeWidth":1,"labelOverlap":false,"labelOffset":0}}}},
{"data":{"name":"bf"},"mark":{"type":"rect","width":3.6,"height":5.9,"clip":true},"encoding":{"x":{"field":"x","type":"quantitative"},"y":{"field":"z","type":"quantitative"},"color":{"field":"v","type":"quantitative","legend":null}}},
{"data":{"values":[{"x":1.4,"z":15,"t":"λ=1.56µm"}]},"mark":{"type":"text","font":"Noto Sans","fontWeight":"bold","fontSize":23,"color":"#dfe8ff"},"encoding":{"x":{"field":"x","type":"quantitative"},"y":{"field":"z","type":"quantitative"},"text":{"field":"t"}}},
{"data":{"values":[{"x":-12.2,"z":7.3,"t":"(b)"}]},"mark":{"type":"text","font":"Noto Sans","fontWeight":"bold","fontSize":27,"color":"#0a0a20"},"encoding":{"x":{"field":"x","type":"quantitative"},"y":{"field":"z","type":"quantitative"},"text":{"field":"t"}}}
]}
],"spacing":58,"bounds":"flush","resolve":{"scale":{"color":"independent"},"legend":{"color":"independent"}}},
{"hconcat":[
{"width":264,"height":224,"view":{"fill":"#0000ac"},"layer":[
{"data":{"name":"cc"},"mark":{"type":"rect","width":8.7,"height":11.6,"clip":true},"encoding":{"x":{"field":"x","type":"quantitative","scale":{"domain":[-15.85,15.85],"nice":false},"axis":{"values":[-15,-10,-5,0,5,10,15],"title":"X(µm)","titlePadding":2}},"y":{"field":"z","type":"quantitative","scale":{"domain":[5,25],"nice":false},"axis":{"values":[5,10,15,20,25],"title":"Z(µm)","titlePadding":3}},"color":{"field":"v","type":"quantitative","scale":{"domain":[0,79,236,394,551,630],"range":["#00008f","#0000ff","#00ffff","#ffff00","#ff0000","#800000"]},"legend":{"orient":"none","legendX":269,"legendY":0,"title":null,"gradientLength":224,"gradientThickness":15,"values":[0,100,200,300,400,500,600],"gradientStrokeColor":"#999999","gradientStrokeWidth":1,"labelOverlap":false,"labelOffset":0}}}},
{"data":{"name":"cf"},"mark":{"type":"rect","width":3.6,"height":5.9,"clip":true},"encoding":{"x":{"field":"x","type":"quantitative"},"y":{"field":"z","type":"quantitative"},"color":{"field":"v","type":"quantitative","legend":null}}},
{"data":{"values":[{"x":1,"z":14.9,"t":"λ=1.66µm"}]},"mark":{"type":"text","font":"Noto Sans","fontWeight":"bold","fontSize":23,"color":"#dfe8ff"},"encoding":{"x":{"field":"x","type":"quantitative"},"y":{"field":"z","type":"quantitative"},"text":{"field":"t"}}},
{"data":{"values":[{"x":-12.6,"z":7.3,"t":"(c)"}]},"mark":{"type":"text","font":"Noto Sans","fontWeight":"bold","fontSize":27,"color":"#0a0a20"},"encoding":{"x":{"field":"x","type":"quantitative"},"y":{"field":"z","type":"quantitative"},"text":{"field":"t"}}}
]},
{"width":266.7,"height":224,"view":{"fill":"white"},"layer":[
{"data":{"values":[{"w":1.46,"f":21.7},{"w":1.5,"f":20.7},{"w":1.54,"f":20},{"w":1.58,"f":19.2},{"w":1.62,"f":18.5},{"w":1.66,"f":17.8}]},"mark":{"type":"line","color":"#1414e6","strokeWidth":3,"clip":false,"point":{"filled":false,"size":45,"strokeWidth":2.2,"color":"#1414e6","fill":"#6f6ff0"}},"encoding":{"x":{"field":"w","type":"quantitative","scale":{"domain":[1.46,1.66],"nice":false},"axis":{"values":[1.5,1.55,1.6,1.65],"format":".3~f","title":"Wavelength(µm)","titlePadding":2,"tickSize":3}},"y":{"field":"f","type":"quantitative","scale":{"domain":[17,22],"nice":false},"axis":{"values":[17,18,19,20,21,22],"title":"Focal length(µm)","titlePadding":1,"tickSize":3}}}},
{"data":{"values":[{"w":1.479,"f":17.5,"t":"(d)"}]},"mark":{"type":"text","font":"Noto Sans","fontWeight":"bold","fontSize":27,"color":"#0a0a20"},"encoding":{"x":{"field":"w","type":"quantitative"},"y":{"field":"f","type":"quantitative"},"text":{"field":"t"}}}
]}
],"spacing":70.6,"bounds":"flush","resolve":{"scale":{"color":"independent"},"legend":{"color":"independent"}}}
]}
